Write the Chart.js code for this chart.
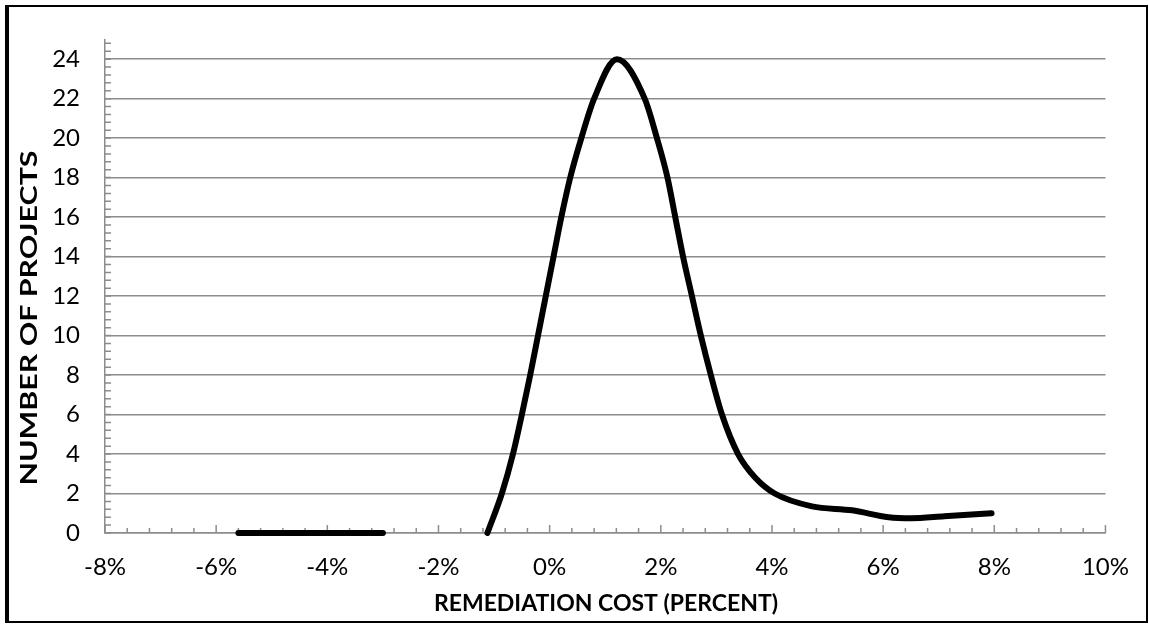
<!DOCTYPE html>
<html>
<head>
<meta charset="utf-8">
<script src="https://cdn.jsdelivr.net/npm/chart.js@4.4.1/dist/chart.umd.min.js"></script>
<style>
  body { margin: 0; background: #fff; }
  #wrap { position: relative; width: 1149px; height: 624px; }
  #frame {
    position: absolute; left: 5px; top: 5px; width: 1137px; height: 614px;
    border: 2px solid #000; border-left-width: 4px; pointer-events: none;
  }
</style>
</head>
<body>
<div id="wrap">
  <canvas id="mychart" width="1149" height="624"></canvas>
  <div id="frame"></div>
</div>
<script>
// values (x in percent, y = number of projects)
const costLow = [-5.6, -4.4, -3.0];
const countLow = [0, 0, 0];

const costMain = [-1.12, -0.86, -0.66, -0.5, -0.35, -0.21, -0.07, 0.07, 0.21, 0.37, 0.57, 0.8, 1.21,
                  1.71, 1.93, 2.12, 2.26, 2.4, 2.56, 2.72, 2.9, 3.1, 3.39, 3.7, 4.05, 4.72, 5.44, 6.1, 6.5, 7.1, 7.95];
const countMain = [0, 2, 4, 6, 8, 10, 12, 14, 16, 18, 20, 22, 24,
                   22, 20, 18, 16, 14, 12, 10, 8, 6, 4, 2.8, 2, 1.35, 1.15, 0.8, 0.75, 0.85, 1.0];

const xTicks = [-8, -6, -4, -2, 0, 2, 4, 6, 8, 10];
const yTicks = [0, 2, 4, 6, 8, 10, 12, 14, 16, 18, 20, 22, 24];

const gridGray = '#8c8c8c';
const labelFont = 'Lato, "Open Sans", sans-serif';

function toPoints(xs, ys) {
    let pts = [];
    for (var i = 0; i < xs.length; i++) {
        pts.push({ x: xs[i], y: ys[i] });
    }
    return pts;
}

// inside tick marks (major + minor) like the original axis, plus axis titles
const tickMarks = {
    id: 'tickMarks',
    beforeDatasetsDraw(chart) {
        const ctx = chart.ctx;
        const xs = chart.scales.x, ys = chart.scales.y;
        ctx.save();
        ctx.strokeStyle = gridGray;
        ctx.lineWidth = 1.5;
        ctx.beginPath();
        for (var i = 0; i <= 62; i++) {
            let py = ys.getPixelForValue(i * 0.4);
            ctx.moveTo(xs.left, py);
            ctx.lineTo(xs.left + 6, py);
        }
        for (var j = 0; j <= 45; j++) {
            let px = xs.getPixelForValue(-8 + j * 0.4);
            let len = (j % 5 == 0) ? 8 : 5;
            ctx.moveTo(px, ys.bottom);
            ctx.lineTo(px, ys.bottom - len);
        }
        ctx.stroke();
        ctx.restore();
    },
    afterDraw(chart) {
        const ctx = chart.ctx;
        ctx.save();
        ctx.fillStyle = '#000';
        ctx.font = 'bold 23px ' + labelFont;
        ctx.textAlign = 'center';
        ctx.textBaseline = 'middle';
        ctx.fillText('REMEDIATION COST (PERCENT)', 606, 604);
        // the y title is stretched along the axis in the original
        ctx.font = 'bold 22px ' + labelFont;
        let w = ctx.measureText('NUMBER OF PROJECTS').width;
        ctx.translate(30, 318);
        ctx.rotate(-Math.PI / 2);
        ctx.scale(335 / w, 1);
        ctx.fillText('NUMBER OF PROJECTS', 0, 0);
        ctx.restore();
    }
};

const lineStyle = {
    borderColor: '#000',
    borderWidth: 6,
    borderCapStyle: 'round',
    borderJoinStyle: 'round',
    pointRadius: 0,
    cubicInterpolationMode: 'monotone',
    fill: false,
    clip: { left: 5, top: 5, right: 5, bottom: 3 }
};

var ctx = document.getElementById('mychart').getContext('2d');
var chart = new Chart(ctx, {
    type: 'line',
    data: {
        datasets: [
            Object.assign({ data: toPoints(costLow, countLow) }, lineStyle),
            Object.assign({ data: toPoints(costMain, countMain) }, lineStyle)
        ]
    },
    options: {
        responsive: false,
        animation: false,
        layout: { padding: { top: 33, right: 42, left: 0, bottom: 0 } },
        plugins: {
            legend: { display: false },
            tooltip: { enabled: false }
        },
        scales: {
            x: {
                type: 'linear',
                min: -8,
                max: 10,
                afterBuildTicks: (scale) => { scale.ticks = xTicks.map(v => ({ value: v })); },
                afterFit: (scale) => { scale.height = 91; },
                grid: { display: false, drawTicks: false },
                border: { display: true, color: gridGray, width: 1.5 },
                ticks: {
                    padding: 20,
                    color: '#000',
                    font: { family: labelFont, size: 24 },
                    maxRotation: 0,
                    callback: (v) => v + '%'
                }
            },
            y: {
                type: 'linear',
                min: 0,
                max: 25,
                afterBuildTicks: (scale) => { scale.ticks = yTicks.map(v => ({ value: v })); },
                afterFit: (scale) => { scale.width = 105; },
                grid: { color: gridGray, lineWidth: 1.5, drawTicks: false },
                border: { display: true, color: gridGray, width: 1.5 },
                ticks: {
                    padding: 25,
                    color: '#000',
                    font: { family: labelFont, size: 24 }
                }
            }
        }
    },
    plugins: [tickMarks]
});
</script>
</body>
</html>
